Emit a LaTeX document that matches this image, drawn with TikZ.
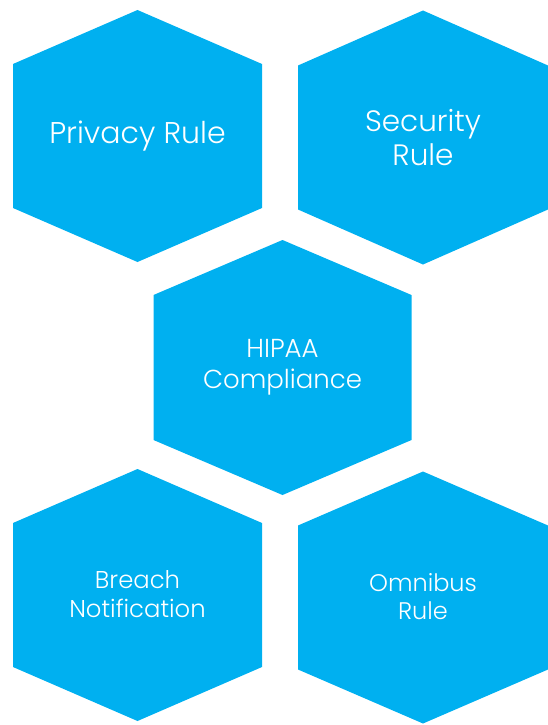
\documentclass[tikz,border=0pt]{standalone}
\usepackage{fontspec}
\setmainfont{Poppins}[UprightFont=* Light]
\usepackage{tikz}
\usetikzlibrary{positioning}

\definecolor{hexblue}{RGB}{0,176,240}

\begin{document}
\begin{tikzpicture}[
			x=1pt, y=-1pt,
			hexfill/.style={fill=hexblue, draw=none},
			every node/.style={
				align=center,
				text=white,
				inner sep=0pt
			}
			]
			
			\useasboundingbox (0,0) rectangle (547,725);
			
			% cells: centre, half width, half height, half side
			\foreach \x/\y/\w/\h/\s in {137.5/136/124.5/126/72, 423/137.5/125/127/72,
				282.5/367.5/129/127.5/72.5, 137.5/595/124.5/126/72, 423/597.5/125/126/72}
			\fill[hexfill] (\x,\y) +(0,-\h) -- +(\w,-\s) -- +(\w,\s) -- +(0,\h)
				-- +(-\w,\s) -- +(-\w,-\s) -- cycle;
			
			\node[font=\fontsize{30}{34}\selectfont] (privacy) at (137.5,136) {Privacy Rule};
			\node[font=\fontsize{29.5}{34}\selectfont] (security) at (423,137.5) {Security\\Rule};
			\node[font=\fontsize{26}{31}\selectfont] (hipaa) at (282.5,367) {HIPAA\\Compliance};
			\node[font=\fontsize{24.3}{28.4}\selectfont] (breach) at (137.5,594) {Breach\\Notification};
			\node[font=\fontsize{24}{28.4}\selectfont] (omnibus) at (423,596.5) {Omnibus\\Rule};
			
		\end{tikzpicture}
\end{document}
